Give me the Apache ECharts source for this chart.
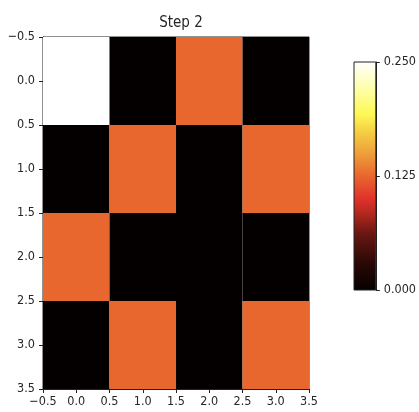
<!DOCTYPE html>
<html>
<head>
<meta charset="utf-8">
<script src="https://cdn.jsdelivr.net/npm/echarts@6/dist/echarts.min.js"></script>
<style>
  html, body { margin: 0; padding: 0; background: #fff; }
  #main { width: 419px; height: 412px; }
</style>
</head>
<body>
<div id="main"></div>
<script>
// 数据
var cols = [0, 1, 2, 3];
var rows = [0, 1, 2, 3];
var grid_values = [
    [0.25, 0, 0.125, 0],
    [0, 0.125, 0, 0.125],
    [0.125, 0, 0, 0],
    [0, 0.125, 0, 0.125]
];
var axis_ticks = [-0.5, 0, 0.5, 1, 1.5, 2, 2.5, 3, 3.5];
var cbar_ticks = [0, 0.125, 0.25];
var vmin = 0, vmax = 0.25;

// hot 色图（按图片取色）
var hot_stops = [
    [0, '#050000'], [0.12, '#2a0806'], [0.25, '#6a1712'], [0.34, '#b5281f'],
    [0.4, '#e0322a'], [0.5, '#e8672e'], [0.6, '#eea03a'], [0.7, '#f6d244'],
    [0.77, '#fdf854'], [0.88, '#fefea8'], [1, '#ffffff']
];

var cells = [];
rows.forEach(function (r) {
    cols.forEach(function (c) {
        cells.push([c, r, grid_values[r][c]]);
    });
});

function fmt(v) {
    var s = v.toFixed(1);
    return s.replace('-', '\u2212');
}

var myChart = echarts.init(document.getElementById('main'));

var labelStyle = { color: '#262626', fontSize: 12.5, fontFamily: 'DejaVu Sans Condensed' };
var axisLine = { show: true, onZero: false, lineStyle: { color: '#222' } };
var axisTick = { show: true, length: 4, lineStyle: { color: '#222' } };

option = {
    animation: false,
    title: {
        text: 'Step 2',
        left: 176, top: 11, textAlign: 'center',
        textStyle: { fontSize: 15, fontWeight: 'normal', color: '#262626', fontFamily: 'DejaVu Sans Condensed' }
    },
    grid: [
        { left: 43, top: 37, width: 266, height: 352, show: true, borderColor: '#222', borderWidth: 1, backgroundColor: 'transparent' },
        { left: 354, top: 62, width: 25, height: 228 }
    ],
    xAxis: [
        {
            type: 'value', gridIndex: 0, min: -0.5, max: 3.5, interval: 0.5,
            axisLine: axisLine, axisTick: axisTick,
            splitLine: { show: false },
            axisLabel: Object.assign({ formatter: fmt, margin: 6, showMinLabel: true, showMaxLabel: true }, labelStyle)
        },
        { type: 'value', gridIndex: 1, min: 0, max: 1, show: false }
    ],
    yAxis: [
        {
            type: 'value', gridIndex: 0, min: -0.5, max: 3.5, interval: 0.5, inverse: true,
            axisLine: axisLine, axisTick: axisTick,
            splitLine: { show: false },
            axisLabel: Object.assign({ formatter: fmt, margin: 8, showMinLabel: true, showMaxLabel: true }, labelStyle)
        },
        {
            type: 'value', gridIndex: 1, min: vmin, max: vmax, interval: 0.125, position: 'right',
            axisLine: axisLine, axisTick: axisTick,
            splitLine: { show: false },
            axisLabel: Object.assign({ formatter: function (v) { return v.toFixed(3); }, margin: 8 }, labelStyle)
        }
    ],
    visualMap: {
        show: false, type: 'continuous', seriesIndex: 0, dimension: 2,
        min: vmin, max: vmax,
        inRange: { color: hot_stops.map(function (s) { return s[1]; }) }
    },
    series: [
        {
            type: 'custom', xAxisIndex: 0, yAxisIndex: 0,
            data: cells,
            renderItem: function (params, api) {
                var x = api.value(0), y = api.value(1);
                var p0 = api.coord([x - 0.5, y - 0.5]);
                var p1 = api.coord([x + 0.5, y + 0.5]);
                return {
                    type: 'rect',
                    shape: {
                        x: Math.min(p0[0], p1[0]), y: Math.min(p0[1], p1[1]),
                        width: Math.abs(p1[0] - p0[0]), height: Math.abs(p1[1] - p0[1])
                    },
                    style: { fill: api.visual('color') }
                };
            }
        },
        {
            // 色条
            type: 'custom', xAxisIndex: 1, yAxisIndex: 1,
            data: [[0, vmin, 1, vmax]],
            renderItem: function (params, api) {
                var p0 = api.coord([api.value(0), api.value(1)]);
                var p1 = api.coord([api.value(2), api.value(3)]);
                return {
                    type: 'rect',
                    shape: { x: p0[0], y: p1[1], width: p1[0] - p0[0], height: p0[1] - p1[1] },
                    style: {
                        fill: new echarts.graphic.LinearGradient(0, 1, 0, 0, hot_stops.map(function (s) {
                            return { offset: s[0], color: s[1] };
                        })),
                        stroke: '#222', lineWidth: 1
                    }
                };
            }
        }
    ]
};

myChart.setOption(option);
</script>
</body>
</html>
